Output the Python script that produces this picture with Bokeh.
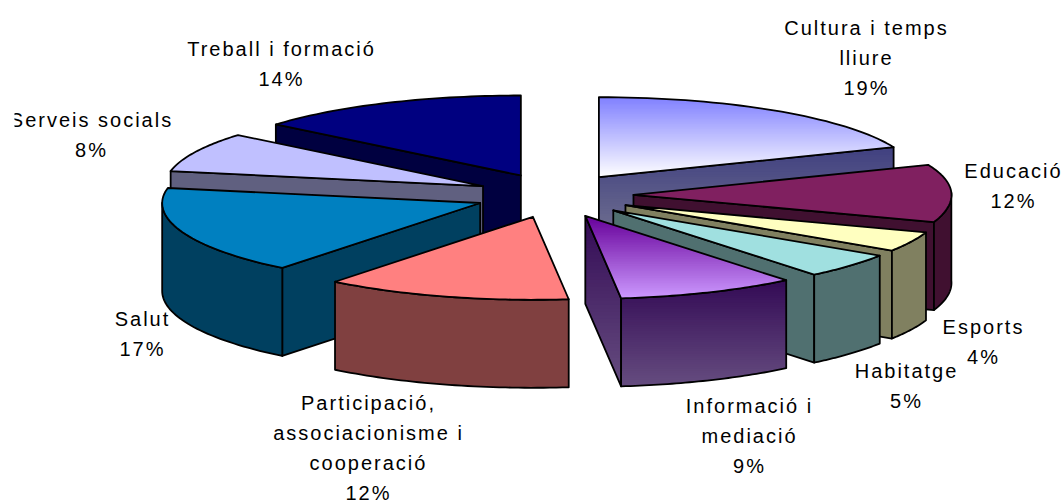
import math
import numpy as np
from bokeh.plotting import figure
from bokeh.embed import file_html
from bokeh.resources import INLINE
from bokeh.core.properties import value

# ---- data ----
categories = ["Cultura i temps\nlliure", "Educació", "Esports", "Habitatge", "Informació i\nmediació",
              "Participació,\nassociacionisme i\ncooperació", "Salut", "Serveis socials", "Treball i formació"]
shares = [19, 12, 4, 5, 9, 12, 17, 8, 14]

# ---- styles ----
top_from = ["#8080FF", "#802060", "#FFFFC0", "#A0E0E0", "#660099", "#FF8080", "#0080C0", "#C0C0FF", "#000080"]
top_to   = ["#FFFFFF", "#802060", "#FFFFC0", "#A0E0E0", "#CC99FF", "#FF8080", "#0080C0", "#C0C0FF", "#000080"]
side_from = ["#404080", "#401030", "#808060", "#507070", "#330A55", "#804040", "#004060", "#606080", "#000040"]
side_to   = ["#808095", "#401030", "#808060", "#507070", "#664D80", "#804040", "#004060", "#606080", "#000040"]
label_pos = [(865, 27), (1012, 170), (982, 326), (905, 370), (748, 405), (367, 402), (141, 318), (90, 119), (280, 48)]
draw_order = [8, 7, 6, 5, 0, 1, 2, 3, 4]

CX, CY, RX, RY_BACK, RY_FRONT, DEPTH, EXPLODE, K = 554, 195, 318, 80, 83, 88, 79, 0.28
WIDTH, HEIGHT = 1063, 503
SPACING = 2  # letter spacing of the labels, px


def warp(deg):
    if 60 < deg < 240:
        return deg - 3.2 * math.sin(math.pi * (deg - 60) / 180)
    return deg


def hex_rgb(c):
    return np.array([int(c[i:i + 2], 16) for i in (1, 3, 5)], float)


def mix(a, b, f):
    r = hex_rgb(a) * (1 - f) + hex_rgb(b) * f
    return "#%02x%02x%02x" % tuple(int(round(v)) for v in r)


def clip_y(poly, lo, hi):
    def clip(pts, inside, y0):
        out = []
        for i in range(len(pts)):
            a, b = pts[i], pts[(i + 1) % len(pts)]
            ia, ib = inside(a[1]), inside(b[1])
            if ia:
                out.append(a)
            if ia != ib:
                f = (y0 - a[1]) / (b[1] - a[1])
                out.append((a[0] + f * (b[0] - a[0]), y0))
        return out
    pts = clip(poly, lambda y: y >= lo, lo)
    return clip(pts, lambda y: y <= hi, hi) if pts else []


p = figure(width=WIDTH, height=HEIGHT, x_range=(0, WIDTH), y_range=(HEIGHT, 0), output_backend="svg",
           toolbar_location=None, min_border=0, outline_line_color=None, background_fill_color="white",
           border_fill_color="white")
p.axis.visible = False
p.grid.visible = False


def face(poly, c0, c1, n=48):
    ys = [q[1] for q in poly]
    lo, hi = min(ys), max(ys)
    if c0 != c1:
        xs_b, ys_b, cols = [], [], []
        for i in range(n):
            a = lo + (hi - lo) * i / n
            b = lo + (hi - lo) * (i + 1) / n
            q = clip_y(poly, a, b + 1.2)
            if len(q) >= 3:
                xs_b.append([u[0] for u in q])
                ys_b.append([u[1] for u in q])
                cols.append(mix(c0, c1, (i + 0.5) / n))
        p.patches(xs_b, ys_b, fill_color=cols, line_color=None)
        p.patch([q[0] for q in poly], [q[1] for q in poly], fill_color=None, fill_alpha=0,
                line_color="black", line_width=1.8, line_join="round")
    else:
        p.patch([q[0] for q in poly], [q[1] for q in poly], fill_color=c0,
                line_color="black", line_width=1.8, line_join="round")


total = sum(shares)
edges = np.cumsum([0] + shares) * 360.0 / total

for i in draw_order:
    t0, t1 = edges[i], edges[i + 1]
    b = warp((t0 + t1) / 2)
    ax = CX + EXPLODE * math.sin(math.radians(b))
    ay = CY - EXPLODE * K * math.cos(math.radians(b))

    def pt(t, drop=0.0):
        r = math.radians(warp(t))
        c = math.cos(r)
        return (ax + RX * math.sin(r), ay - (RY_BACK if c > 0 else RY_FRONT) * c + drop)

    def arc(a, c, drop=0.0):
        return [pt(t, drop) for t in np.linspace(a, c, 40)]

    apex, apex_d = (ax, ay), (ax, ay + DEPTH)
    # radial walls facing the viewer
    if -math.cos(math.radians(t0 - 90)) > 0:
        face([apex, pt(t0), pt(t0, DEPTH), apex_d], side_from[i], side_to[i])
    if -math.cos(math.radians(t1 + 90)) > 0:
        face([apex, pt(t1), pt(t1, DEPTH), apex_d], side_from[i], side_to[i])
    # outer rim
    a, c = max(t0, 90.0), min(t1, 270.0)
    if a < c:
        face(arc(a, c) + arc(a, c, DEPTH)[::-1], side_from[i], side_to[i])
    # top face
    face([apex] + arc(t0, t1), top_from[i], top_to[i])

# labels
tx, ty, tt = [], [], []
for name, v, (lx, ly) in zip(categories, shares, label_pos):
    lines = name.split("\n") + [f"{v}%"]
    for j, s in enumerate(lines):
        # the browser adds the letter spacing after centring, so take half of it back
        tx.append(lx - (len(s) - 1) * SPACING / 2)
        ty.append(ly + j * 30)
        tt.append(s)
p.text(tx, ty, text=tt, text_font=value("Liberation Sans"), text_font_size="20px", text_color="black",
       text_align="center", text_baseline="middle")
# the reference's left edge cuts the first letter of "Serveis socials"
p.quad(left=[0], right=[14], top=[100], bottom=[135], fill_color="white", line_color=None)

html = file_html(p, INLINE).replace("</head>", "<style>body{letter-spacing:%dpx}</style></head>" % SPACING, 1)
open("out.html", "w").write(html)
